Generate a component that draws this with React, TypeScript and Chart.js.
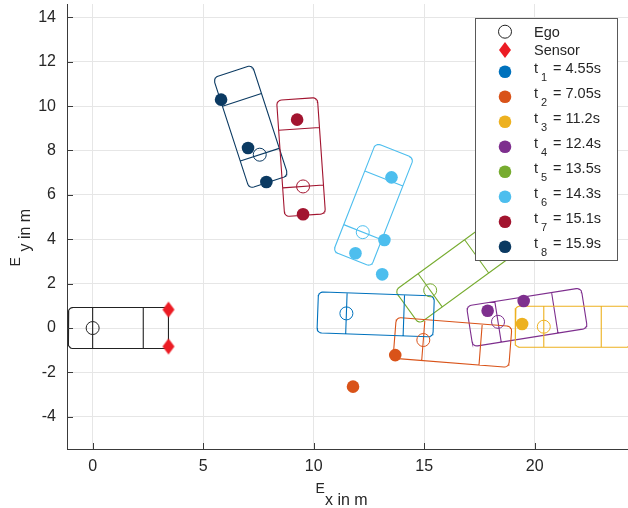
import { useEffect, useRef } from "react";
import { Chart, registerables } from "chart.js";

Chart.register(...registerables);

const FONT = "'Liberation Sans', Arial, Helvetica, sans-serif";
const TEXT_COLOR = "#262626";
const AXIS_COLOR = "#3a3a3a";
const GRID_COLOR = "#e6e6e6";

// Axis limits and tick values (metres)
const xLimits = [-1.16, 24.22];
const yLimits = [-5.45, 14.6];
const xTicks = [0, 5, 10, 15, 20];
const yTicks = [-4, -2, 0, 2, 4, 6, 8, 10, 12, 14];

// Ego vehicle reference point and its two corner radar sensors
const egoX = [0];
const egoY = [0];
const sensorX = [3.43, 3.43];
const sensorY = [0.83, -0.83];

// Tracked vehicle at each time stamp
const trackTimes = ["4.55", "7.05", "11.2", "12.4", "13.5", "14.3", "15.1", "15.9"];
const trackColors = ["#0072BD", "#D95319", "#EDB120", "#7E2F8E", "#77AC30", "#4DBEEE", "#A2142F", "#0B3A62"];
const trackRefX = [11.48, 14.96, 20.41, 18.34, 15.27, 12.22, 9.52, 7.56];
const trackRefY = [0.66, -0.54, 0.06, 0.28, 1.7, 4.32, 6.38, 7.81];
const trackHeading = [-2, -4.5, 0, 9, 36, 68.5, 94, 108];

// Radar detections belonging to each time stamp
const detectionsX: number[][] = [
  [],
  [13.69, 11.78],
  [19.43],
  [17.87, 19.5],
  [],
  [13.52, 13.2, 11.89, 13.1],
  [9.25, 9.52],
  [5.81, 7.03, 7.86],
];
const detectionsY: number[][] = [
  [],
  [-1.22, -2.64],
  [0.18],
  [0.78, 1.22],
  [],
  [6.79, 3.97, 3.37, 2.42],
  [9.39, 5.13],
  [10.29, 8.11, 6.58],
];

// Body dimensions measured from the rear axle
const egoDims = { rear: 1.1, front: 3.43, wheelbase: 2.29, width: 1.85, corner: 0.22 };
const targetDims = { rear: 1.3, front: 3.95, wheelbase: 2.6, width: 1.85, corner: 0.22 };

type Dims = typeof egoDims;
type Pt = { x: number | null; y: number | null };

// Rounded body outline plus the two axle lines, separated by gaps
function vehicleOutline(cx: number, cy: number, headingDeg: number, dims: Dims, roundFront: boolean): Pt[] {
  const h = (headingDeg * Math.PI) / 180;
  const c = Math.cos(h);
  const s = Math.sin(h);
  const pt = (u: number, v: number): Pt => ({ x: cx + u * c - v * s, y: cy + u * s + v * c });
  const hw = dims.width / 2;
  const r = dims.corner;
  const rf = roundFront ? r : 0;
  const pts: Pt[] = [];
  const arc = (uc: number, vc: number, rad: number, a0: number, a1: number) => {
    if (rad === 0) {
      pts.push(pt(uc, vc));
      return;
    }
    for (let k = 0; k <= 8; k++) {
      const a = a0 + ((a1 - a0) * k) / 8;
      pts.push(pt(uc + rad * Math.cos(a), vc + rad * Math.sin(a)));
    }
  };
  arc(dims.front - rf, hw - rf, rf, 0, Math.PI / 2);
  arc(-dims.rear + r, hw - r, r, Math.PI / 2, Math.PI);
  arc(-dims.rear + r, -hw + r, r, Math.PI, 1.5 * Math.PI);
  arc(dims.front - rf, -hw + rf, rf, 1.5 * Math.PI, 2 * Math.PI);
  pts.push({ ...pts[0] });
  pts.push({ x: null, y: null }, pt(0, hw), pt(0, -hw));
  pts.push({ x: null, y: null }, pt(dims.wheelbase, hw), pt(dims.wheelbase, -hw));
  return pts;
}

function makeDiamond(color: string): HTMLCanvasElement {
  const cv = document.createElement("canvas");
  cv.width = 14;
  cv.height = 18;
  const g = cv.getContext("2d")!;
  g.fillStyle = color;
  g.beginPath();
  g.moveTo(7, 1);
  g.lineTo(13, 9);
  g.lineTo(7, 17);
  g.lineTo(1, 9);
  g.closePath();
  g.fill();
  return cv;
}

const SENSOR_COLOR = "#EC1C24";
const POINT_R = 6.3;
const REF_R = 6.5;

const decorPlugin = {
  id: "decor",
  afterDraw(chart: any) {
    const { ctx, chartArea: ca } = chart;
    const xs = chart.scales.x;
    const ys = chart.scales.y;
    ctx.save();

    // inward tick marks
    ctx.strokeStyle = AXIS_COLOR;
    ctx.lineWidth = 1;
    ctx.beginPath();
    for (const v of xTicks) {
      const px = Math.round(xs.getPixelForValue(v)) + 0.5;
      ctx.moveTo(px, ca.bottom);
      ctx.lineTo(px, ca.bottom - 6);
    }
    for (const v of yTicks) {
      const py = Math.round(ys.getPixelForValue(v)) + 0.5;
      ctx.moveTo(ca.left, py);
      ctx.lineTo(ca.left + 6, py);
    }
    ctx.stroke();

    // axis titles
    ctx.fillStyle = TEXT_COLOR;
    ctx.textBaseline = "alphabetic";
    ctx.textAlign = "left";
    const cxm = (ca.left + ca.right) / 2;
    ctx.font = `14px ${FONT}`;
    ctx.fillText("E", cxm - 32, ca.bottom + 44);
    ctx.font = `16px ${FONT}`;
    ctx.fillText("x in m", cxm - 22.5, ca.bottom + 56);

    const cym = (ca.top + ca.bottom) / 2;
    ctx.save();
    ctx.translate(20, cym + 40);
    ctx.rotate(-Math.PI / 2);
    ctx.font = `14px ${FONT}`;
    ctx.fillText("E", 0, 0);
    ctx.restore();
    ctx.save();
    ctx.translate(29.5, cym + 25);
    ctx.rotate(-Math.PI / 2);
    ctx.font = `16px ${FONT}`;
    ctx.fillText("y in m", 0, 0);
    ctx.restore();

    // legend
    const L = 475.5, T = 18.5, R = 617.5, B = 260.5;
    ctx.fillStyle = "#ffffff";
    ctx.fillRect(L, T, R - L, B - T);
    ctx.strokeStyle = "#595959";
    ctx.lineWidth = 1;
    ctx.strokeRect(L, T, R - L, B - T);

    const mx = 505;
    const tx = 534;
    ctx.fillStyle = TEXT_COLOR;
    ctx.font = `14.5px ${FONT}`;
    // Ego
    ctx.beginPath();
    ctx.arc(mx, 31.7, REF_R, 0, Math.PI * 2);
    ctx.strokeStyle = "#222";
    ctx.stroke();
    ctx.fillText("Ego", tx, 36.5);
    // Sensor
    const d = makeDiamond(SENSOR_COLOR);
    ctx.drawImage(d, mx - 7, 50 - 9);
    ctx.fillStyle = TEXT_COLOR;
    ctx.fillText("Sensor", tx, 55);
    // time stamps
    trackTimes.forEach((t, i) => {
      const my = 71.7 + 25 * i;
      ctx.beginPath();
      ctx.arc(mx, my, POINT_R, 0, Math.PI * 2);
      ctx.fillStyle = trackColors[i];
      ctx.fill();
      ctx.fillStyle = TEXT_COLOR;
      const base = my + 1.6;
      ctx.font = `14.5px ${FONT}`;
      ctx.fillText("t", tx, base);
      ctx.font = `11px ${FONT}`;
      ctx.fillText(String(i + 1), tx + 7, base + 7.5);
      ctx.font = `14.5px ${FONT}`;
      ctx.fillText(`= ${t}s`, tx + 19, base);
    });

    ctx.restore();
  },
};

export default function App() {
  const ref = useRef<HTMLCanvasElement>(null);

  useEffect(() => {
    const datasets: any[] = [];

    // detections on top
    trackTimes.forEach((t, i) => {
      datasets.push({
        type: "scatter",
        label: `t${i + 1} = ${t}s`,
        data: detectionsX[i].map((x, k) => ({ x, y: detectionsY[i][k] })),
        pointStyle: "circle",
        pointRadius: POINT_R,
        pointBackgroundColor: trackColors[i],
        pointBorderWidth: 0,
        order: 0,
      });
    });

    datasets.push({
      type: "scatter",
      label: "Sensor",
      data: sensorX.map((x, k) => ({ x, y: sensorY[k] })),
      pointStyle: makeDiamond(SENSOR_COLOR),
      pointRadius: 8,
      order: 0,
    });

    datasets.push({
      type: "scatter",
      label: "Ego",
      data: egoX.map((x, k) => ({ x, y: egoY[k] })),
      pointStyle: "circle",
      pointRadius: REF_R,
      pointBackgroundColor: "rgba(0,0,0,0)",
      pointBorderColor: "#222",
      pointBorderWidth: 1,
      order: 1,
    });

    datasets.push({
      type: "scatter",
      label: "reference",
      data: trackRefX.map((x, k) => ({ x, y: trackRefY[k] })),
      pointStyle: "circle",
      pointRadius: REF_R,
      pointBackgroundColor: "rgba(0,0,0,0)",
      pointBorderColor: trackColors,
      pointBorderWidth: 1,
      order: 1,
    });

    // vehicle bodies underneath
    datasets.push({
      type: "scatter",
      label: "ego body",
      data: vehicleOutline(egoX[0], egoY[0], 0, egoDims, false),
      showLine: true,
      spanGaps: false,
      borderColor: "#222",
      borderWidth: 1.1,
      pointRadius: 0,
      order: 2,
    });
    trackTimes.forEach((_, i) => {
      datasets.push({
        type: "scatter",
        label: `body ${i + 1}`,
        data: vehicleOutline(trackRefX[i], trackRefY[i], trackHeading[i], targetDims, true),
        showLine: true,
        spanGaps: false,
        borderColor: trackColors[i],
        borderWidth: 1.1,
        pointRadius: 0,
        order: 2,
      });
    });

    const chart = new Chart(ref.current!, {
      type: "scatter",
      data: { datasets },
      options: {
        responsive: false,
        animation: false,
        events: [],
        layout: { autoPadding: false, padding: { top: 4, left: 0, right: 0, bottom: 0 } },
        plugins: { legend: { display: false }, tooltip: { enabled: false } },
        scales: {
          x: {
            type: "linear",
            min: xLimits[0],
            max: xLimits[1],
            afterBuildTicks: (s: any) => {
              s.ticks = xTicks.map((v) => ({ value: v }));
            },
            afterFit: (s: any) => {
              s.height = 59;
              s.paddingLeft = 0;
              s.paddingRight = 0;
            },
            grid: { color: GRID_COLOR, lineWidth: 1, drawTicks: false },
            border: { display: true, color: AXIS_COLOR, width: 1 },
            ticks: {
              padding: 8,
              color: TEXT_COLOR,
              font: { family: FONT, size: 16 },
              maxRotation: 0,
              autoSkip: false,
            },
          },
          y: {
            type: "linear",
            min: yLimits[0],
            max: yLimits[1],
            afterBuildTicks: (s: any) => {
              s.ticks = yTicks.map((v) => ({ value: v }));
            },
            afterFit: (s: any) => {
              s.width = 67;
              s.paddingTop = 0;
              s.paddingBottom = 0;
            },
            grid: { color: GRID_COLOR, lineWidth: 1, drawTicks: false },
            border: { display: true, color: AXIS_COLOR, width: 1 },
            ticks: {
              padding: 11,
              color: TEXT_COLOR,
              font: { family: FONT, size: 16 },
              autoSkip: false,
            },
          },
        },
      },
      plugins: [decorPlugin],
    } as any);

    return () => chart.destroy();
  }, []);

  return (
    <div style={{ position: "fixed", left: 0, top: 0, width: 628, height: 508, background: "#fff" }}>
      <canvas ref={ref} width={628} height={508} style={{ display: "block" }} />
    </div>
  );
}
